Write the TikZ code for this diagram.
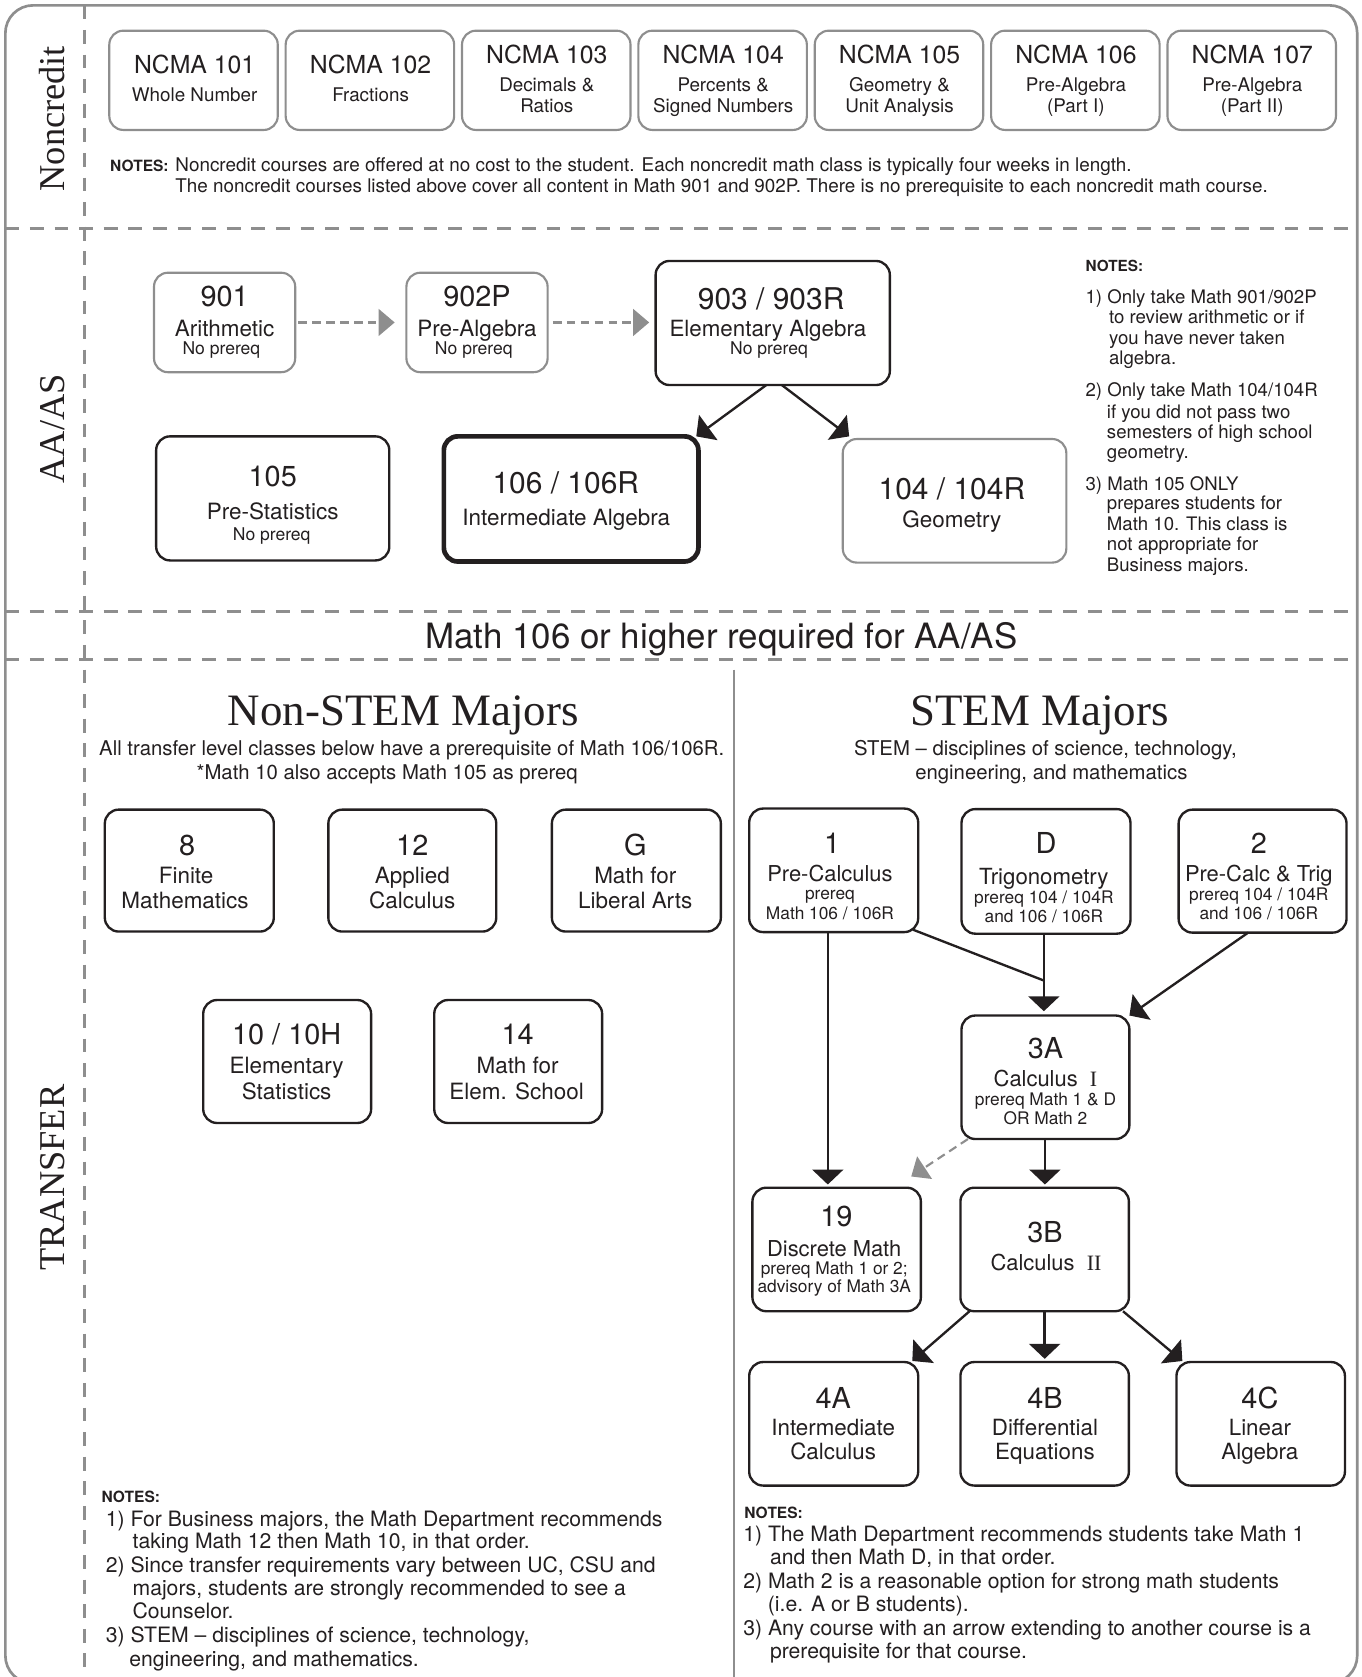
\documentclass[tikz,border=0pt]{standalone}
\usepackage{fontspec}
\setmainfont{TeX Gyre Heros}
\newfontfamily\tms{Liberation Serif}
\usetikzlibrary{arrows.meta}
\definecolor{ink}{HTML}{231F20}
\definecolor{frm}{HTML}{8E8E8E}
\newcounter{tlc}
\newcommand\fs[1]{\fontsize{#1}{#1}\selectfont}
\newcommand\mytc[4]{\stepcounter{tlc}\node[txt,font=\fs{#1}] (t\arabic{tlc}) at (#2,#3) {#4};}
\newcommand\mytl[4]{\stepcounter{tlc}\node[ltxt,font=\fs{#1}] (t\arabic{tlc}) at (#2,#3) {#4};}
\newcommand\mybx[6]{\node[#1,minimum width={(#5)-(#3)},minimum height={(#6)-(#4)}] (#2) at ({((#3)+(#5))/2},{((#4)+(#6))/2}) {};}
\begin{document}
\begin{tikzpicture}[x=1pt,y=-1pt,
  txt/.style={anchor=base, inner sep=0pt, outer sep=0pt, text=ink},
  ltxt/.style={anchor=base west, inner sep=0pt, outer sep=0pt, text=ink},
  box/.style={rectangle, draw=ink, line width=2.2pt, rounded corners=13pt, inner sep=0pt, outer sep=0pt},
  gbox/.style={box, draw=frm, line width=2pt},
  tbox/.style={box, line width=4.4pt},
  arr/.style={draw=ink, line width=2.2pt, -{Triangle[width=29pt,length=14pt]}},
  ln/.style={draw=ink, line width=2.2pt},
  garr/.style={draw=frm, line width=2pt, dash pattern=on 8pt off 5pt, -{Triangle[width=25pt,length=15pt]}},
  sect/.style={draw=frm, line width=2.5pt, dash pattern=on 13pt off 10pt},
  side/.style={rotate=90, anchor=base, font=\tms\fs{34}, text=ink, inner sep=0pt},
]
\useasboundingbox (0,0) rectangle (1273,1568);
% frame and section lines
\draw[frm, line width=2.5pt, rounded corners=26pt] (5,5) rectangle (1269,1574);
\draw[sect] (5,213.5) -- (1269,213.5);
\draw[sect] (5,571.7) -- (1269,571.7);
\draw[sect] (5,616.8) -- (1269,616.8);
\draw[sect] (79,5) -- (79,1574);
\draw[frm, line width=2pt] (686,626) -- (686,1574);
\node[side] (lnc) at (60,111) {Noncredit};
\node[side] (laa) at (60,401) {AA/AS};
\node[side] (ltr) at (60,1101) {TRANSFER};

% ---------- Noncredit ----------
\mybx{gbox}{n1}{102.2}{28.7}{259.7}{121.5}
\mytc{23.2}{182}{69}{NCMA 101}\mytc{17.6}{182}{95.1}{Whole Number}
\mybx{gbox}{n2}{267.1}{28.7}{424.6}{121.5}
\mytc{23.2}{346.5}{69}{NCMA 102}\mytc{17.6}{346.5}{95.1}{Fractions}
\mybx{gbox}{n3}{432}{28.7}{589.5}{121.5}
\mytc{23.2}{511.3}{59.7}{NCMA 103}\mytc{17.6}{511.3}{85.7}{Decimals \&}\mytc{17.6}{511.3}{105.3}{Ratios}
\mybx{gbox}{n4}{596.9}{28.7}{754.4}{121.5}
\mytc{23.2}{676.2}{59.7}{NCMA 104}\mytc{17.6}{676.2}{85.7}{Percents \&}\mytc{17.6}{676.2}{105.3}{Signed Numbers}
\mybx{gbox}{n5}{761.8}{28.7}{919.3}{121.5}
\mytc{23.2}{841.1}{59.7}{NCMA 105}\mytc{17.6}{841.1}{85.7}{Geometry \&}\mytc{17.6}{841.1}{105.3}{Unit Analysis}
\mybx{gbox}{n6}{926.7}{28.7}{1084.2}{121.5}
\mytc{23.2}{1006}{59.7}{NCMA 106}\mytc{17.6}{1006}{85.7}{Pre-Algebra}\mytc{17.6}{1006}{105.3}{(Part I)}
\mybx{gbox}{n7}{1091.6}{28.7}{1249.1}{121.5}
\mytc{23.2}{1170.9}{59.7}{NCMA 107}\mytc{17.6}{1170.9}{85.7}{Pre-Algebra}\mytc{17.6}{1170.9}{105.3}{(Part II)}
\mytl{14.5}{103}{160.2}{\bfseries NOTES:}
\mytl{17.65}{164}{160.2}{Noncredit courses are offered at no cost to the student. Each noncredit math class is typically four weeks in length.}
\mytl{17.65}{164}{180.3}{The noncredit courses listed above cover all content in Math 901 and 902P. There is no prerequisite to each noncredit math course.}

% ---------- AA/AS ----------
\mybx{gbox}{a901}{144}{255}{276}{348}
\mytc{27}{210}{286.7}{901}\mytc{21}{210}{314.6}{Arithmetic}\mytc{16.4}{207}{331.9}{No prereq}
\mybx{gbox}{a902}{380}{255}{512}{348}
\mytc{27}{446}{286.7}{902P}\mytc{21}{446}{314.6}{Pre-Algebra}\mytc{16.4}{443}{331.9}{No prereq}
\mybx{box}{a903}{613}{244}{832}{360}
\mytc{28}{721}{289.1}{903 / 903R}\mytc{20.9}{718}{315}{Elementary Algebra}\mytc{16.4}{719}{331.9}{No prereq}
\mybx{box}{a105}{146}{408}{364}{524}
\mytc{27}{255}{455.3}{105}\mytc{21}{255}{486.1}{Pre-Statistics}\mytc{16.4}{254}{504.9}{No prereq}
\mybx{tbox}{a106}{415}{408}{653}{525}
\mytc{28}{529}{461.1}{106 / 106R}\mytc{21}{529.5}{491.6}{Intermediate Algebra}
\mybx{gbox}{a104}{788}{410.5}{997}{526}
\mytc{28}{890}{466.6}{104 / 104R}\mytc{21}{890}{493.1}{Geometry}
\draw[garr, shorten <=3pt, shorten >=11pt] (a901.east) -- (a902.west);
\draw[garr, shorten <=5pt, shorten >=6pt] (a902.east) -- (a902.east -| a903.west);
\draw[arr] ([xshift=-6pt]a903.south) -- ([xshift=-2pt]a106.north east);
\draw[arr] ([xshift=8.5pt]a903.south) -- ([xshift=6pt,yshift=2.5pt]a104.north west);
\mytl{14.3}{1015}{254.3}{\bfseries NOTES:}
\mytl{17.4}{1015}{283.6}{1) Only take Math 901/902P}
\mytl{17.4}{1037}{302.9}{to review arithmetic or if}
\mytl{17.4}{1037}{321.9}{you have never taken}
\mytl{17.4}{1037}{340.6}{algebra.}
\mytl{17.4}{1015}{370.8}{2) Only take Math 104/104R}
\mytl{17.4}{1035}{391.1}{if you did not pass two}
\mytl{17.4}{1035}{409.7}{semesters of high school}
\mytl{17.4}{1035}{428.4}{geometry.}
\mytl{17.4}{1015}{458.6}{3) Math 105 ONLY}
\mytl{17.4}{1035}{476.7}{prepares students for}
\mytl{17.4}{1035}{496}{Math 10. This class is}
\mytl{17.4}{1035}{514.7}{not appropriate for}
\mytl{17.4}{1035}{534.3}{Business majors.}

\mytc{32.6}{674.5}{606.5}{Math 106 or higher required for AA/AS}

% ---------- Transfer ----------
\node[txt, font=\tms\fs{42}] (tns) at (377,678) {Non-STEM Majors};
\node[txt, font=\tms\fs{42}] (tst) at (972,678) {STEM Majors};
\mytc{19}{385}{706.8}{All transfer level classes below have a prerequisite of Math 106/106R.}
\mytc{19}{362}{728.8}{*Math 10 also accepts Math 105 as prereq}
\mytc{19}{977.5}{706.8}{STEM -- disciplines of science, technology,}
\mytc{19}{983}{728.8}{engineering, and mathematics}

\mybx{box}{s8}{98}{757}{256}{871}
\mytc{27}{175}{799.7}{8}\mytc{21}{174}{825.6}{Finite}\mytc{21}{173}{849.6}{Mathematics}
\mybx{box}{s12}{307}{757}{464}{871}
\mytc{27}{385.5}{799.7}{12}\mytc{21}{385.5}{825.6}{Applied}\mytc{21}{385.5}{849.6}{Calculus}
\mybx{box}{sG}{516}{757}{674}{871}
\mytc{27}{594}{799.7}{G}\mytc{21}{594}{825.6}{Math for}\mytc{21}{594}{849.6}{Liberal Arts}
\mybx{box}{s10}{190}{935}{347}{1050}
\mytc{27}{268}{976.7}{10 / 10H}\mytc{21}{268}{1003.6}{Elementary}\mytc{21}{268}{1027.6}{Statistics}
\mybx{box}{s14}{406}{935}{563}{1050}
\mytc{27}{484}{976.7}{14}\mytc{21}{484}{1003.6}{Math for}\mytc{21}{483}{1027.6}{Elem. School}

\mybx{box}{b1}{700.5}{756}{858.5}{871.5}
\mytc{27}{778}{797.7}{1}\mytc{20.5}{776}{824.4}{Pre-Calculus}\mytc{16.2}{776}{841.2}{prereq}\mytc{16.2}{776}{859.8}{Math 106 / 106R}
\mybx{box}{bD}{899}{756.5}{1057}{873}
\mytc{27}{978}{797.7}{D}\mytc{20.8}{976}{826.7}{Trigonometry}\mytc{16.2}{976}{844.4}{prereq 104 / 104R}\mytc{16.2}{976}{862.5}{and 106 / 106R}
\mybx{box}{b2}{1102}{757}{1259}{872}
\mytc{27}{1177}{797.7}{2}\mytc{20.5}{1177}{824.4}{Pre-Calc \& Trig}\mytc{16.2}{1177}{841.8}{prereq 104 / 104R}\mytc{16.2}{1177}{859.8}{and 106 / 106R}
\mybx{box}{b3A}{899}{949.5}{1056}{1065}
\mytc{27}{977.5}{989.7}{3A}\mytc{20.5}{977.5}{1016.1}{Calculus~~{\tms I}}\mytc{16.2}{977.5}{1033.2}{prereq Math 1 \& D}\mytc{16.2}{977.5}{1051}{OR Math 2}
\mybx{box}{b19}{703.5}{1110.5}{861}{1226}
\mytc{27}{782}{1146.7}{19}\mytc{20.5}{780}{1175}{Discrete Math}\mytc{16.2}{780}{1192.1}{prereq Math 1 or 2;}\mytc{16.2}{780}{1208.9}{advisory of Math 3A}
\mybx{box}{b3B}{898}{1110.5}{1055.5}{1226}
\mytc{27}{977}{1161.7}{3B}\mytc{20.5}{978}{1188.1}{Calculus~~{\tms II}}
\mybx{box}{b4A}{700.5}{1273.5}{858.5}{1389}
\mytc{27}{779}{1316.7}{4A}\mytc{20.9}{779}{1342.6}{Intermediate}\mytc{20.9}{779}{1365}{Calculus}
\mybx{box}{b4B}{898}{1273.5}{1055.5}{1389}
\mytc{27}{977}{1316.7}{4B}\mytc{20.9}{977}{1342.6}{Differential}\mytc{20.9}{977}{1365}{Equations}
\mybx{box}{b4C}{1100}{1273.5}{1257.5}{1389}
\mytc{27}{1178}{1316.7}{4C}\mytc{20.9}{1178}{1342.6}{Linear}\mytc{20.9}{1178}{1365}{Algebra}

\coordinate (m1) at (976,916.8);
\draw[arr, shorten >=3pt] ([xshift=-5.5pt]b1.south) -- ([xshift=-5.5pt]b1.south |- b19.north);
\draw[ln] ([shift={(-5,-2.3)}]b1.south east) -- (m1);
\draw[arr, shorten >=4pt] ([xshift=-2pt]bD.south) -- ([xshift=-2pt]bD.south |- b3A.north);
\draw[arr] ([xshift=-13.5pt]b2.south) -- (b3A.north east);
\draw[garr] ([xshift=6pt]b3A.south west) -- ([shift={(-9pt,10.5pt)}]b19.north east);
\draw[arr, shorten >=3pt] ([xshift=-0.5pt]b3A.south) -- ([xshift=-0.5pt]b3A.south |- b3B.north);
\draw[arr] ([xshift=8.5pt]b3B.south west) -- ([xshift=-5.5pt,yshift=1pt]b4A.north east);
\draw[arr, shorten >=3pt] (b3B.south) -- (b3B.south |- b4B.north);
\draw[arr] ([xshift=-5.5pt]b3B.south east) -- ([xshift=5.5pt,yshift=1pt]b4C.north west);

% ---------- bottom notes ----------
\mytl{14.5}{95}{1405}{\bfseries NOTES:}
\mytl{19.8}{99}{1427}{1) For Business majors, the Math Department recommends}
\mytl{19.8}{124}{1448}{taking Math 12 then Math 10, in that order.}
\mytl{19.8}{99}{1470}{2) Since transfer requirements vary between UC, CSU and}
\mytl{19.8}{124}{1492}{majors, students are strongly recommended to see a}
\mytl{19.8}{124}{1513}{Counselor.}
\mytl{19.8}{99}{1536}{3) STEM -- disciplines of science, technology,}
\mytl{19.8}{121}{1558}{engineering, and mathematics.}

\mytl{14.5}{696}{1419.4}{\bfseries NOTES:}
\mytl{19.8}{695}{1441.6}{1) The Math Department recommends students take Math 1}
\mytl{19.8}{720}{1463}{and then Math D, in that order.}
\mytl{19.8}{695}{1485}{2) Math 2 is a reasonable option for strong math students}
\mytl{19.8}{718}{1507}{(i.e. A or B students).}
\mytl{19.8}{695}{1529}{3) Any course with an arrow extending to another course is a}
\mytl{19.8}{720}{1551}{prerequisite for that course.}
\end{tikzpicture}
\end{document}
